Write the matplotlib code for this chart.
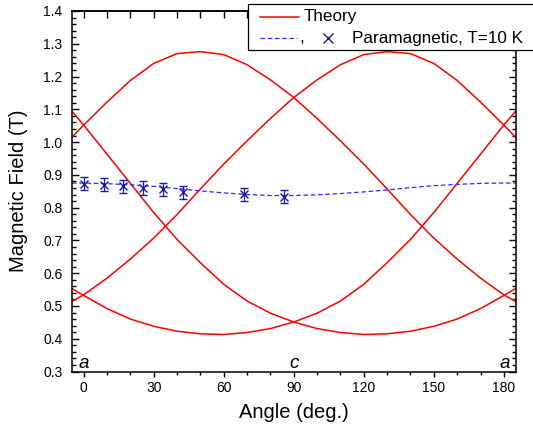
import numpy as np
import matplotlib
matplotlib.use("Agg")
import matplotlib.pyplot as plt
from matplotlib.lines import Line2D
from matplotlib.patches import Rectangle
from matplotlib.ticker import MultipleLocator

plt.rcParams['font.family'] = ['Liberation Sans', 'DejaVu Sans']

# theory curves (the second of each pair is the mirror image about 90 deg)
theory_angle = [-5, 0, 10, 20, 30, 40, 50, 60, 70, 80, 90, 100, 110,
                120, 130, 140, 150, 160, 170, 180, 185]
theory_a = [1.015, 1.052, 1.122, 1.188, 1.240, 1.270, 1.276, 1.267, 1.236,
            1.190, 1.136, 1.072, 1.004, 0.933, 0.857, 0.779, 0.707, 0.643,
            0.585, 0.534, 0.514]
theory_b = [1.094, 1.052, 0.963, 0.874, 0.785, 0.703, 0.632, 0.566, 0.515,
            0.478, 0.451, 0.431, 0.419, 0.413, 0.415, 0.423, 0.438, 0.460,
            0.492, 0.532, 0.553]

# paramagnetic fit (dashed) and measured points
fit_angle = [-5, 0, 10, 20, 30, 40, 50, 60, 70, 80, 90, 100, 110, 120,
             130, 140, 150, 160, 170, 180, 185]
fit_field = [0.875, 0.875, 0.873, 0.870, 0.865, 0.858, 0.851, 0.845, 0.840,
             0.837, 0.837, 0.839, 0.843, 0.848, 0.854, 0.861, 0.867, 0.871,
             0.874, 0.875, 0.875]
meas_angle = [0, 8.5, 17, 25.5, 34, 42.5, 68.5, 86]
meas_field = [0.873, 0.870, 0.865, 0.860, 0.856, 0.847, 0.841, 0.833]
meas_err = [0.02, 0.02, 0.02, 0.02, 0.02, 0.02, 0.02, 0.02]

axis_marks = [(0, 'a'), (90, 'c'), (180.5, 'a')]

red = '#ff0000'
blue = '#2a2aff'
navy = '#1a1a9a'

fig = plt.figure(figsize=(5.33, 4.29), dpi=100)
ax = fig.add_axes([0.1351, 0.134, 0.8321, 0.8404])

ta = np.array(theory_angle)
ax.plot(ta, theory_a, color=red, lw=1.1)
ax.plot(180 - ta, theory_a, color=red, lw=1.1)
ax.plot(ta, theory_b, color=red, lw=1.1)
ax.plot(180 - ta, theory_b, color=red, lw=1.1)

ax.plot(fit_angle, fit_field, color=blue, lw=0.9, dashes=(3.6, 2.2))
ax.errorbar(meas_angle, meas_field, yerr=meas_err, fmt='x', color=navy,
            ms=5.5, mew=1.0, elinewidth=0.9, capsize=2.8, capthick=0.9)

for ang, lab in axis_marks:
    ax.text(ang, 0.31, lab, style='italic', fontsize=13.5, ha='center',
            va='baseline')

ax.set_xlim(-5, 185)
ax.set_ylim(0.3, 1.4)
ax.xaxis.set_major_locator(MultipleLocator(30))
ax.xaxis.set_minor_locator(MultipleLocator(10))
ax.yaxis.set_major_locator(MultipleLocator(0.1))
ax.yaxis.set_minor_locator(MultipleLocator(0.02))
ax.yaxis.set_major_formatter(matplotlib.ticker.FormatStrFormatter('%.1f'))

ax.tick_params(axis='x', which='major', direction='out', length=3.5,
               width=1.0, labelsize=10, pad=3)
ax.tick_params(axis='x', which='minor', direction='out', length=2.2, width=1.0)
ax.tick_params(axis='y', which='major', direction='in', length=5, width=1.0,
               labelsize=10, pad=7, right=True)
ax.tick_params(axis='y', which='minor', direction='in', length=2.8,
               width=1.0, right=True)

top = ax.secondary_xaxis('top')
top.xaxis.set_major_locator(MultipleLocator(30))
top.xaxis.set_minor_locator(MultipleLocator(10))
top.tick_params(which='major', direction='in', length=5, width=1.0,
                labeltop=False)
top.tick_params(which='minor', direction='in', length=5, width=1.0)

for sp in list(ax.spines.values()) + list(top.spines.values()):
    sp.set_linewidth(1.1)

ax.set_xlabel('Angle (deg.)', fontsize=14.5)
ax.set_ylabel('Magnetic Field (T)', fontsize=14.5)
ax.xaxis.set_label_coords(0.5, -0.088)
ax.yaxis.set_label_coords(-0.1, 0.5)

# Origin-style legend box, running off the right edge
W, H = 533.0, 429.0
box = Rectangle((248 / W, 1 - 50 / H), 300 / W, 46 / H, transform=fig.transFigure,
                facecolor='white', edgecolor='black', lw=0.9, zorder=10,
                clip_on=False)
fig.add_artist(box)
fig.add_artist(Line2D([260 / W, 299 / W], [1 - 17 / H] * 2, color=red, lw=1.1,
                      zorder=11))
fig.text(304 / W, 1 - 17 / H, 'Theory', fontsize=12.3, va='center', zorder=11)
fig.add_artist(Line2D([260 / W, 297 / W], [1 - 38 / H] * 2, color=blue, lw=0.9,
                      dashes=(3.6, 2.2), zorder=11))
fig.text(299 / W, 1 - 38 / H, ',', fontsize=12.3, va='center', zorder=11)
fig.add_artist(Line2D([328 / W], [1 - 38 / H], marker='x', color=navy, ms=6.5,
                      mew=1.0, ls='none', zorder=11))
fig.text(352 / W, 1 - 38 / H, 'Paramagnetic, T=10 K', fontsize=12.3,
         va='center', zorder=11)

fig.savefig('out.png', dpi=100)
